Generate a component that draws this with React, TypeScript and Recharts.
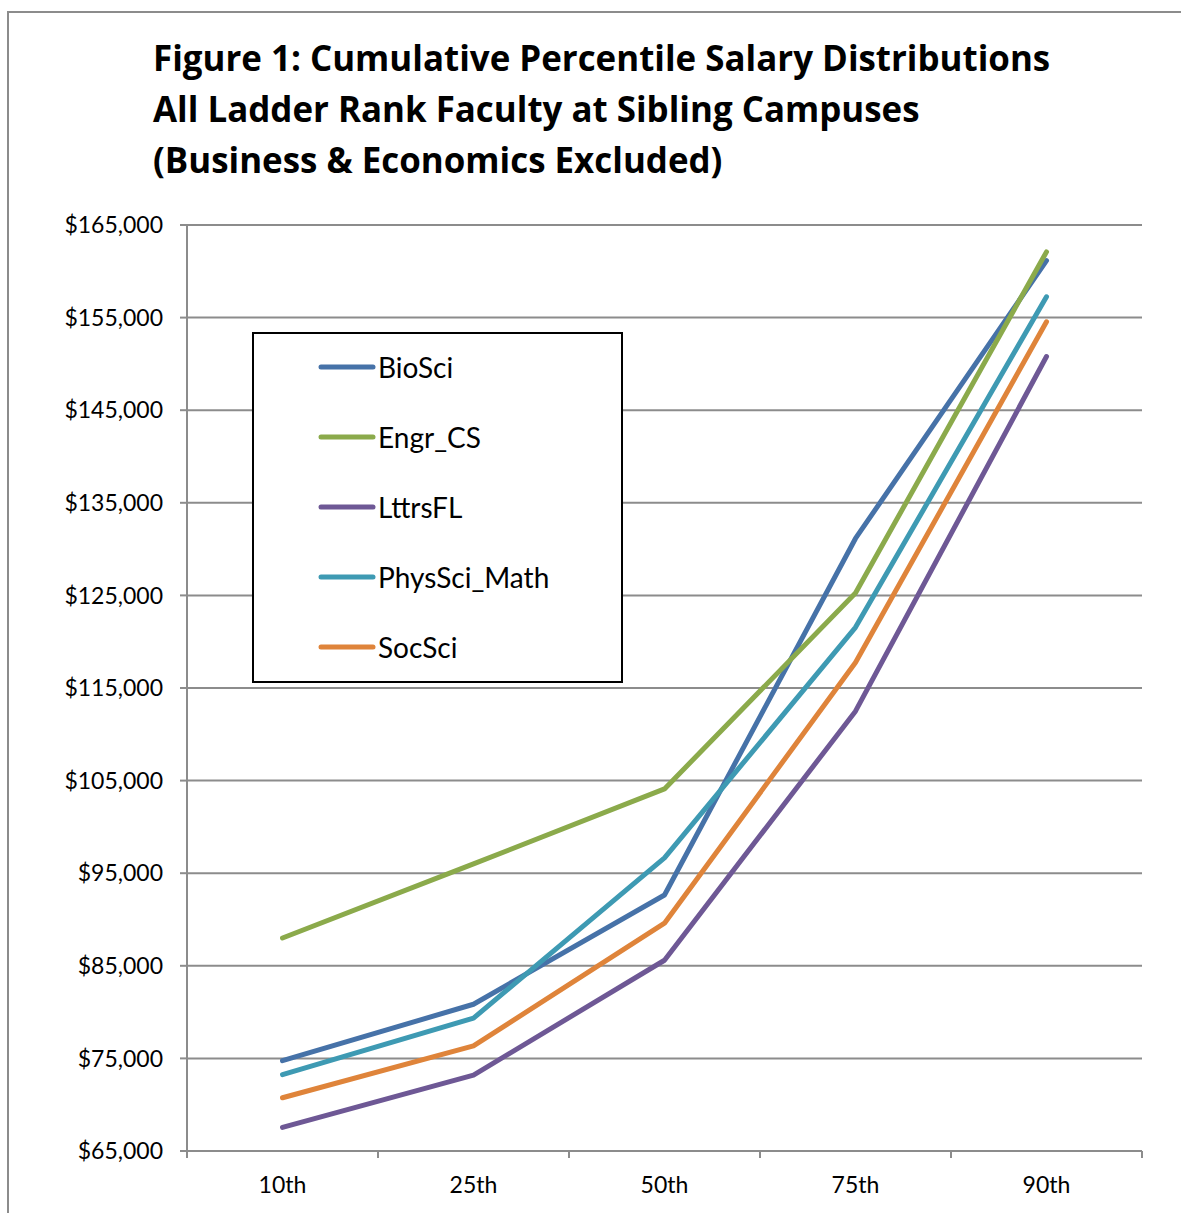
import React from 'react';
import { LineChart, Line, XAxis, YAxis, CartesianGrid, Legend } from 'recharts';

// Percentile categories along the x axis
const percentiles = ['10th', '25th', '50th', '75th', '90th'];

// Salary at each percentile, by discipline group
const bioSci = [74750, 80850, 92650, 131150, 161150];
const engrCS = [88000, 96000, 104100, 125250, 162100];
const lttrsFL = [67550, 73200, 85600, 112500, 150800];
const physSciMath = [73250, 79350, 96650, 121550, 157250];
const socSci = [70750, 76350, 89600, 117750, 154550];

const yTicks = [65000, 75000, 85000, 95000, 105000, 115000, 125000, 135000, 145000, 155000, 165000];

const seriesDefs = [
  { key: 'BioSci', values: bioSci, color: '#4672A8' },
  { key: 'Engr_CS', values: engrCS, color: '#8BAA4B' },
  { key: 'LttrsFL', values: lttrsFL, color: '#6E5895' },
  { key: 'PhysSci_Math', values: physSciMath, color: '#3E9AB3' },
  { key: 'SocSci', values: socSci, color: '#DF843A' },
];

const data = percentiles.map((p, i) => {
  const row: Record<string, string | number> = { pct: p };
  seriesDefs.forEach((s) => {
    row[s.key] = s.values[i];
  });
  return row;
});

const FONT = 'Lato, "Open Sans", sans-serif';
const TITLE_FONT = '"Open Sans", Lato, sans-serif';
const AXIS_GREY = '#8c8c8c';
const X_TICK_MARGIN = 10;

const fmtDollar = (v: number) => '$' + v.toLocaleString('en-US');

// Category label centred in its band, with tick marks on the band boundaries
const XTick = (props: any) => {
  const { x, y, payload, index, visibleTicksCount, width } = props;
  const half =
    payload && typeof payload.offset === 'number' && payload.offset > 0
      ? payload.offset
      : width / visibleTicksCount / 2;
  const axisY = y - X_TICK_MARGIN;
  return (
    <g>
      <line x1={x - half} x2={x - half} y1={axisY} y2={axisY + 7} stroke={AXIS_GREY} strokeWidth={2} />
      {index === visibleTicksCount - 1 && (
        <line x1={x + half} x2={x + half} y1={axisY} y2={axisY + 7} stroke={AXIS_GREY} strokeWidth={2} />
      )}
      <text x={x} y={axisY + 42} textAnchor="middle" fontFamily={FONT} fontSize={23} fill="#000">
        {payload.value}
      </text>
    </g>
  );
};

const LegendBox = (props: any) => {
  const items = props.payload || [];
  return (
    <div
      style={{
        position: 'relative',
        width: 371,
        height: 351,
        border: '2px solid #000',
        boxSizing: 'border-box',
        background: '#fff',
        fontFamily: FONT,
      }}
    >
      {items.map((it: any, i: number) => (
        <div
          key={it.value}
          style={{
            position: 'absolute',
            left: 62,
            top: 33 + i * 70 - 20,
            height: 40,
            display: 'flex',
            alignItems: 'center',
            whiteSpace: 'nowrap',
          }}
        >
          <svg width={62} height={10} style={{ display: 'block' }}>
            <line x1={5} x2={57} y1={5} y2={5} stroke={it.color} strokeWidth={5} strokeLinecap="round" />
          </svg>
          <span style={{ fontSize: 28, color: '#000', lineHeight: '40px' }}>{it.value}</span>
        </div>
      ))}
    </div>
  );
};

export default function App() {
  return (
    <div style={{ position: 'absolute', left: 0, top: 0, width: 1181, height: 1213, background: '#fff', overflow: 'hidden' }}>
      <div
        style={{
          position: 'absolute',
          left: 7,
          top: 11,
          width: 1200,
          height: 1230,
          borderLeft: `2px solid ${AXIS_GREY}`,
          borderTop: `2px solid ${AXIS_GREY}`,
          boxSizing: 'border-box',
        }}
      />
      <div
        style={{
          position: 'absolute',
          left: 153,
          top: 32,
          fontFamily: TITLE_FONT,
          fontWeight: 700,
          fontSize: 34.9,
          lineHeight: '51px',
          color: '#000',
          whiteSpace: 'nowrap',
        }}
      >
        <div>Figure 1: Cumulative Percentile Salary Distributions</div>
        <div>All Ladder Rank Faculty at Sibling Campuses</div>
        <div>(Business &amp; Economics Excluded)</div>
      </div>
      <div style={{ position: 'absolute', left: 0, top: 0 }}>
        <LineChart width={1181} height={1213} data={data} margin={{ top: 225, right: 39, bottom: 0, left: 0 }}>
          <CartesianGrid vertical={false} stroke={AXIS_GREY} strokeWidth={2} />
          <XAxis
            dataKey="pct"
            scale="band"
            height={62}
            axisLine={{ stroke: AXIS_GREY, strokeWidth: 2 }}
            tickLine={false}
            tickSize={0}
            tickMargin={X_TICK_MARGIN}
            tick={<XTick />}
            interval={0}
          />
          <YAxis
            width={187}
            domain={[65000, 165000]}
            ticks={yTicks}
            interval={0}
            tickFormatter={fmtDollar}
            axisLine={{ stroke: AXIS_GREY, strokeWidth: 2 }}
            tickLine={{ stroke: AXIS_GREY, strokeWidth: 2 }}
            tickSize={7}
            tickMargin={17}
            tick={{ fontFamily: FONT, fontSize: 23, fill: '#000' }}
          />
          <Legend
            layout="vertical"
            align="center"
            verticalAlign="middle"
            wrapperStyle={{ left: 252, top: 332, width: 371, height: 351 }}
            content={<LegendBox />}
          />
          {seriesDefs.map((s) => (
            <Line
              key={s.key}
              type="linear"
              dataKey={s.key}
              name={s.key}
              stroke={s.color}
              strokeWidth={5}
              strokeLinecap="round"
              strokeLinejoin="round"
              dot={false}
              activeDot={false}
              isAnimationActive={false}
            />
          ))}
        </LineChart>
      </div>
    </div>
  );
}
